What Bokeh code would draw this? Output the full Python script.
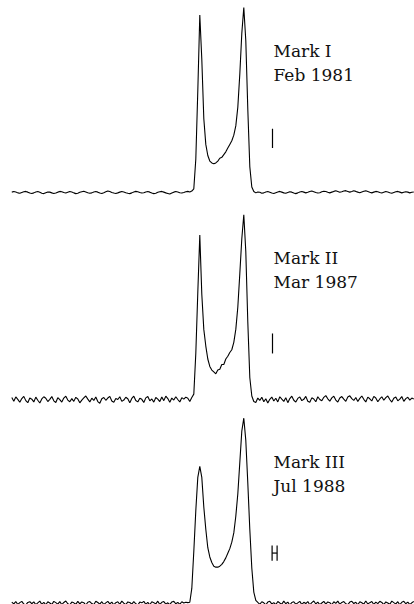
import numpy as np
from bokeh.plotting import figure
from bokeh.models import Range1d
from bokeh.core.properties import value
from bokeh.embed import file_html
from bokeh.resources import INLINE

# ---------------- data ----------------
receivers = ["Mark I", "Mark II", "Mark III"]
dates = ["Feb 1981", "Mar 1987", "Jul 1988"]

# flux (% of the strongest horn) per channel; left baseline, line, right baseline
mark1_left = [0.2,0.5,0.3,-0.2,-0.4,0.0,0.4,0.6,0.2,-0.3,
              -0.5,-0.2,0.3,0.5,0.1,-0.4,-0.6,-0.1,0.3,0.2,
              -0.2,-0.5,-0.3,0.2,0.6,0.4,0.0,-0.3,0.1,0.5,
              0.3,-0.2,-0.6,-0.4,0.1,0.4,0.7,0.3,-0.1,-0.4,
              -0.2,0.3,0.5,0.2,-0.3,-0.5,-0.1,0.4,0.8,0.5,
              0.0,-0.3,-0.5,-0.2,0.2,0.5,0.3,-0.1,-0.4,-0.6,
              -0.2,0.3,0.6,0.4,0.0,-0.3,-0.1,0.3,0.5,0.2,
              -0.3,-0.6,-0.4,0.1,0.4,0.6,0.2,-0.2,-0.5,-0.8,
              -0.3,0.2,0.5,0.3,-0.1,-0.3,0.0,0.4]
mark1_line = [0.6,0.3,0.8,2,18,55,96,72,40,26,
              20,17,16,15.5,16,17,18.5,19,20.5,22,
              24,26,28,31,36,46,64,86,100,82,
              45,14,3,0.5]
mark1_right = [-0.2,0.3,0.1,-0.4,-0.2,0.3,0.5,0.1,-0.3,-0.5,
               -0.1,0.3,0.6,0.2,-0.2,-0.4,0.0,0.4,0.2,-0.3,
               -0.6,-0.2,0.3,0.5,0.2,-0.2,0.1,0.5,0.8,0.4,
               0.0,-0.3,-0.1,0.4,0.7,0.5,0.1,-0.2,0.2,0.6,
               0.9,0.5,0.1,0.4,0.8,1.0,0.6,0.2,0.5,0.9,
               0.6,0.2,-0.1,0.3,0.7,0.9,0.5,0.1,-0.2,0.2,
               0.6,0.4,0.0,-0.3,0.1,0.5,0.3,-0.1,-0.4,0.0,
               0.4,0.6,0.2,-0.2,0.1,0.4,0.2,-0.2,0.1,0.3]

mark2_left = [1.2,-0.8,1.5,0.2,-1.4,0.6,1.8,-0.5,-1.6,0.9,
              0.3,-1.2,1.4,-0.3,-1.8,0.4,1.6,0.8,-1.0,0.2,
              1.7,-0.6,-1.5,1.1,0.0,-1.3,0.9,1.9,-0.2,-1.1,
              0.6,-0.9,1.3,0.4,-1.7,-0.2,1.0,2.0,0.3,-1.2,
              0.8,-0.4,1.5,-1.0,-1.9,0.5,1.2,-0.3,0.9,1.8,
              -0.7,-1.4,0.6,0.1,1.6,-0.9,-0.2,1.3,0.5,-1.6,
              0.7,1.9,-0.4,-1.2,0.8,0.2,-1.5,1.0,1.7,-0.6,
              0.4,-1.3,1.2,0.3,-1.0,1.5,-0.5,1.9,0.6,-1.4,
              0.9,-0.2,1.6,0.1,-1.2,1.1,0.3,1.4]
mark2_line = [0.8,-1.0,1.2,3,25,58,89,57,38,29,
              22,18,16,15,14,16,16.5,19,19,22,
              23.5,25.5,27,31,38,50,68,87,100,80,
              42,12,2,-1.0]
mark2_right = [-1.5,0.9,-0.4,1.3,-1.1,0.5,-1.8,0.2,1.4,-0.7,
               0.8,-1.2,1.6,0.3,-0.9,1.1,-1.6,0.6,1.9,-0.3,
               -1.3,0.7,1.5,-0.5,0.2,1.8,-0.8,-1.4,1.0,0.4,
               -1.1,1.6,0.1,-0.6,1.3,2.2,0.5,-0.8,1.0,1.9,
               -0.2,-1.3,0.9,1.7,0.3,-0.9,1.5,2.1,0.6,-0.4,
               1.2,-1.0,0.7,2.0,0.2,-1.2,1.4,0.5,-0.7,1.8,
               0.9,-1.1,0.4,1.6,-0.3,1.1,2.0,0.1,-1.3,0.8,
               1.5,-0.6,0.3,1.7,-0.9,0.6,1.3,-0.2,0.9,0.4]

mark3_left = [0.6,-0.4,0.9,-0.7,0.3,1.0,-0.5,-0.9,0.4,0.8,
              -0.3,0.7,-0.8,0.2,1.1,-0.6,0.5,-0.9,0.8,0.1,
              -0.7,1.0,0.3,-0.5,0.9,-0.8,0.4,1.2,-0.3,-0.9,
              0.6,0.2,-0.6,1.0,-0.4,0.7,0.3,-1.0,0.5,0.9,
              -0.2,-0.8,1.1,0.4,-0.5,0.8,-0.7,0.2,1.0,-0.4,
              0.6,-0.9,0.3,0.8,-0.6,1.1,0.0,-0.8,0.7,0.4,
              -0.5,0.9,-0.3,-1.0,0.6,0.2,1.0,-0.6,0.4,-0.9,
              0.8,0.3,-0.4,1.1,-0.7,0.5,0.9,-0.5,0.2,-0.8,
              0.7,1.0,-0.3,0.4,-0.6,0.8,0.1,0.5]
mark3_line = [0.3,0.5,8,28,50,68,74,68,52,40,
              30,25,22,20,19.5,19.5,20,21,22.5,24.5,
              27,29.5,33,38,47,59,76,93,100,88,
              65,40,19,6]
mark3_right = [1.5,0.4,-0.6,0.8,0.2,-0.9,0.6,1.0,-0.4,0.3,
               -0.8,0.9,0.1,-0.5,1.1,-0.3,0.6,-1.0,0.4,0.8,
               -0.6,0.2,1.0,-0.7,0.5,-0.2,0.9,-0.9,0.3,1.2,
               -0.4,0.6,-0.8,0.1,1.0,-0.5,0.7,0.3,-0.9,0.8,
               -0.1,1.1,-0.6,0.4,0.9,-0.3,-0.8,0.6,1.0,-0.2,
               0.5,-0.9,0.8,0.2,-0.5,1.2,-0.4,0.3,0.9,-0.7,
               0.6,-0.2,1.0,0.4,-0.8,0.7,0.1,-0.6,1.1,0.3,
               -0.4,0.8,-0.9,0.5,1.0,-0.3,0.6,-0.7,0.2,0.9]

# noise error bars (centre and half-length in %, half-width in channels)
errbar_centre = [29.3, 30.4, 27.1]
errbar_half = [5.2, 5.4, 4.1]
errbar_halfwidth = [0.0, 0.0, 1.25]

spectra = [mark1_left + mark1_line + mark1_right,
           mark2_left + mark2_line + mark2_right,
           mark3_left + mark3_line + mark3_right]
channels = np.arange(len(spectra[0]))

# ---------------- layout ----------------
W, H = 414, 604
PX = 1.85                     # pixels per percent
offsets = [222, 110, 0]       # vertical stacking offsets
label_x = 130.85
label_dy = [76.4, 63.6]
err_x = [130.35, 130.35, 131.4]
y0 = -0.7

p = figure(width=W, height=H, output_backend="svg", toolbar_location=None,
           x_axis_type=None, y_axis_type=None, min_border=0,
           outline_line_color=None,
           x_range=Range1d(-5.65, -5.65 + W / 2.0),
           y_range=Range1d(y0, y0 + H / PX))
p.grid.visible = False

for i, spec in enumerate(spectra):
    off = offsets[i]
    p.line(channels, np.array(spec) + off, line_color="black", line_width=1.1)

    p.text(x=[label_x, label_x], y=[off + label_dy[0], off + label_dy[1]],
           text=[receivers[i], dates[i]],
           text_font=value("DejaVu Serif"), text_font_size="17px",
           text_color="#111111", text_align="left", text_baseline="alphabetic")

    c, h, w = errbar_centre[i], errbar_half[i], errbar_halfwidth[i]
    if w == 0:
        xs0, ys0, xs1, ys1 = [err_x[i]], [off + c - h], [err_x[i]], [off + c + h]
    else:
        xa, xb = err_x[i] - w, err_x[i] + w
        xs0 = [xa, xb, xa]
        xs1 = [xa, xb, xb]
        ys0 = [off + c - h, off + c - h, off + c]
        ys1 = [off + c + h, off + c + h, off + c]
    p.segment(x0=xs0, y0=ys0, x1=xs1, y1=ys1, line_color="black", line_width=1.2)

open("out.html", "w").write(file_html(p, INLINE))
